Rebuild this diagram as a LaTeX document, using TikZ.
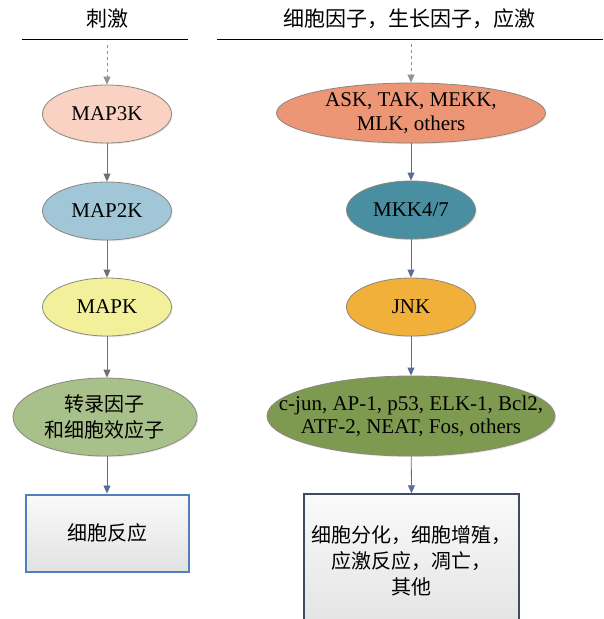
\documentclass[tikz,border=0pt]{standalone}
\usepackage{fontspec}
\setmainfont{Liberation Serif}
\newfontfamily\serifen{Liberation Serif}
\newfontfamily\cjk{Noto Sans CJK SC}
\usetikzlibrary{shapes.geometric,arrows.meta,shadows}
\definecolor{cmapiiik}{RGB}{249,210,196}
\definecolor{cask}{RGB}{236,150,118}
\definecolor{cmapiik}{RGB}{160,198,216}
\definecolor{cmkk}{RGB}{74,142,162}
\definecolor{cmapk}{RGB}{243,240,156}
\definecolor{cjnk}{RGB}{241,176,58}
\definecolor{ctf}{RGB}{168,192,138}
\definecolor{cjun}{RGB}{126,154,80}
\definecolor{ovalborder}{RGB}{140,135,125}
\definecolor{grayarrow}{RGB}{112,112,112}
\definecolor{bluearrow}{RGB}{90,108,156}
\definecolor{boxblue}{RGB}{80,128,192}
\definecolor{boxdark}{RGB}{64,74,96}
\begin{document}
\begin{tikzpicture}[x=1pt,y=-1pt,
  oval/.style={ellipse, draw=ovalborder, line width=0.8pt, inner sep=-14pt, align=center,
    font=\serifen\fontsize{21}{24}\selectfont,
    drop shadow={opacity=0.18, shadow xshift=1.2pt, shadow yshift=-1.2pt}},
  cjkoval/.style={oval, font=\cjk\fontsize{20}{26}\selectfont},
  smalloval/.style={oval, minimum width=129pt, minimum height=58pt},
  head/.style={font=\cjk\fontsize{21}{24}\selectfont, inner sep=0pt},
  arr/.style={-{Triangle[length=8pt,width=7pt]}, line width=0.8pt},
  dasharr/.style={arr, draw=gray!85, dash pattern=on 3pt off 3pt}
]
\useasboundingbox (0,0) rectangle (603,619);
\clip (0,0) rectangle (603,619);

% headings
\node[head] (h1) at (107,19) {刺激};
\node[head] (h2) at (409,19) {细胞因子，生长因子，应激};
\draw[line width=0.9pt] (22,39) -- (188,39);
\draw[line width=0.9pt] (217,39) -- (603,39);
\coordinate (s1) at (107,45);
\coordinate (s2) at (411,44);

% left column
\node[smalloval, fill=cmapiiik] (map3k) at (107,114) {MAP3K};
\node[smalloval, fill=cmapiik] (map2k) at (107,211) {MAP2K};
\node[smalloval, fill=cmapk] (mapk) at (107,307) {MAPK};
\node[cjkoval, fill=ctf, minimum width=184pt, minimum height=78pt] (tf) at (105,417) {转录因子\\和细胞效应子};
\node[rectangle, draw=boxblue, line width=2pt, minimum width=163pt, minimum height=77pt,
  font=\cjk\fontsize{20}{26}\selectfont,
  top color={rgb,255:red,250;green,250;blue,250}, bottom color={rgb,255:red,226;green,226;blue,226}] (resp) at (107,533) {细胞反应};

% right column
\node[oval, fill=cask, minimum width=269pt, minimum height=60pt] (ask) at (411,113) {ASK, TAK, MEKK,\\MLK, others};
\node[smalloval, fill=cmkk] (mkk) at (411,210) {MKK4/7};
\node[smalloval, fill=cjnk] (jnk) at (411,307) {JNK};
\node[oval, fill=cjun, inner xsep=-45pt, minimum width=288pt, minimum height=80pt, font=\serifen\fontsize{21}{23}\selectfont] (jun) at (411,416) {c-jun, AP-1, p53, ELK-1, Bcl2,\\ATF-2, NEAT, Fos, others};
\node[rectangle, draw=boxdark, line width=1.4pt, minimum width=215pt, minimum height=140pt,
  top color={rgb,255:red,250;green,250;blue,250}, bottom color={rgb,255:red,226;green,226;blue,226}] (out) at (411.5,564) {};
\node[font=\cjk\fontsize{20}{26}\selectfont, align=center, inner sep=0pt] (outtxt) at (411,561) {细胞分化，细胞增殖，\\应激反应，凋亡，\\其他};

% connectors
\draw[dasharr] (s1) -- (map3k.north);
\draw[dasharr] (s2) -- (ask.north);
\draw[arr, draw=grayarrow] (map3k) -- (map2k);
\draw[arr, draw=grayarrow] (map2k) -- (mapk);
\draw[arr, draw=grayarrow] (mapk.south) -- (mapk.south |- tf.north);
\draw[arr, draw=bluearrow] (tf.south -| resp.north) -- (resp.north);
\draw[arr, draw=bluearrow] (ask) -- (mkk);
\draw[arr, draw=bluearrow] (mkk) -- (jnk);
\draw[arr, draw=bluearrow] (jnk) -- (jun);
\draw[arr, draw=bluearrow] (jun) -- (out.north);
\end{tikzpicture}
\end{document}
